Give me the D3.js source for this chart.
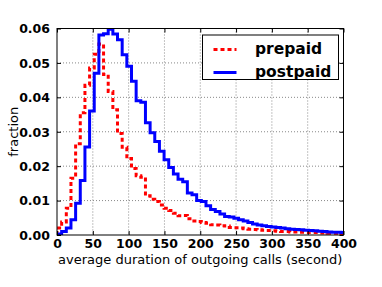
<!DOCTYPE html>
<html><head><meta charset="utf-8">
<script src="https://cdn.jsdelivr.net/npm/d3@7"></script>
<style>body{margin:0;background:#fff;}svg{display:block;font-family:"DejaVu Sans",sans-serif;}</style>
</head><body>
<svg id="c" width="382" height="287"></svg>
<script>
const binWidth = 6.5; // seconds per histogram bin, starting at 0
const seriesNames = ["prepaid", "postpaid"];
const prepaid = [0.002,0.0038,0.0078,0.0165,0.0265,0.0355,0.0435,0.0485,0.0525,0.0555,
 0.0466,0.0417,0.0364,0.0295,0.0255,0.0222,0.0193,0.0172,0.0168,0.0114,
 0.0104,0.0097,0.0087,0.0078,0.0071,0.0063,0.0056,0.0057,0.0047,0.0041,
 0.0039,0.0036,0.0034,0.003,0.0029,0.0027,0.0026,0.0022,0.0021,0.002,
 0.0018,0.0017,0.0016,0.0015,0.0014,0.0013,0.0012,0.0011,0.001,0.001,
 0.0009,0.0009,0.0008,0.0008,0.0007,0.0007,0.0006,0.0006,0.0005,0.0005,
 0.0005,0.0004];
const postpaid = [0.0003,0.001,0.002,0.0044,0.0092,0.0158,0.0256,0.036,0.047,0.0581,
 0.0585,0.0598,0.0584,0.0567,0.0524,0.049,0.0447,0.039,0.0386,0.0326,
 0.0297,0.0272,0.0243,0.0219,0.0196,0.0177,0.0162,0.0155,0.0122,0.0117,
 0.0100,0.0097,0.0085,0.0074,0.0068,0.0061,0.0054,0.0052,0.0049,0.0044,
 0.0041,0.0036,0.0032,0.0029,0.0027,0.0025,0.0023,0.0022,0.0020,0.0018,
 0.0017,0.0016,0.0015,0.0014,0.0013,0.0012,0.0011,0.0010,0.0009,0.0008,
 0.0008,0.0007];
const xTicks = [0,50,100,150,200,250,300,350,400];
const yTicks = [0,0.01,0.02,0.03,0.04,0.05,0.06];
const xLabel = "average duration of outgoing calls (second)";
const yLabel = "fraction";

const svg = d3.select("#c");
const L = 57, R = 343.5, T = 28.5, B = 235;
const x = d3.scaleLinear().domain([0,400]).range([L,R]);
const y = d3.scaleLinear().domain([0,0.06]).range([B,T]);

svg.append("defs").append("clipPath").attr("id","clip")
  .append("rect").attr("x",L).attr("y",T).attr("width",R-L).attr("height",B-T);

// grid
const g = svg.append("g");
g.selectAll(".gx").data(xTicks.slice(1,-1)).join("line")
  .attr("x1",d=>x(d)).attr("x2",d=>x(d)).attr("y1",T).attr("y2",B)
  .attr("stroke","#888").attr("stroke-width",1).attr("stroke-dasharray","1,2");
g.selectAll(".gy").data(yTicks.slice(1,-1)).join("line")
  .attr("y1",d=>y(d)).attr("y2",d=>y(d)).attr("x1",L).attr("x2",R)
  .attr("stroke","#888").attr("stroke-width",1).attr("stroke-dasharray","1,2");

function stepPoints(vals){
  const pts = [[0,0]];
  vals.forEach((v,i)=>{ pts.push([i*binWidth,v]); pts.push([(i+1)*binWidth,v]); });
  pts.push([vals.length*binWidth,0]);
  return pts;
}
const line = d3.line().x(d=>x(d[0])).y(d=>y(d[1]));
const plot = svg.append("g").attr("clip-path","url(#clip)");
plot.append("path").attr("d",line(stepPoints(prepaid))).attr("fill","none")
  .attr("stroke","#ff0000").attr("stroke-width",3).attr("stroke-dasharray","4,3");
plot.append("path").attr("d",line(stepPoints(postpaid))).attr("fill","none")
  .attr("stroke","#0000ff").attr("stroke-width",3).attr("stroke-linejoin","miter");

// frame
svg.append("rect").attr("x",L).attr("y",T).attr("width",R-L).attr("height",B-T)
  .attr("fill","none").attr("stroke","#000").attr("stroke-width",1);

// axes ticks (inward, all sides) via d3 axes
const axB = svg.append("g").attr("transform",`translate(0,${B})`)
  .call(d3.axisBottom(x).tickValues(xTicks).tickSizeInner(-4).tickSizeOuter(0).tickPadding(6).tickFormat(d3.format("d")));
const axL = svg.append("g").attr("transform",`translate(${L},0)`)
  .call(d3.axisLeft(y).tickValues(yTicks).tickSizeInner(-4).tickSizeOuter(0).tickPadding(7).tickFormat(d3.format(".2f")));
const axT = svg.append("g").attr("transform",`translate(0,${T})`)
  .call(d3.axisTop(x).tickValues(xTicks).tickSizeInner(-4).tickSizeOuter(0).tickFormat(""));
const axR = svg.append("g").attr("transform",`translate(${R},0)`)
  .call(d3.axisRight(y).tickValues(yTicks).tickSizeInner(-4).tickSizeOuter(0).tickFormat(""));
[axB,axL,axT,axR].forEach(a=>{ a.select(".domain").remove(); a.selectAll(".tick line").attr("stroke","#000"); });
[axB,axL].forEach(a=>a.selectAll("text").attr("font-family","DejaVu Sans").attr("font-weight","bold").attr("font-size",12.5).attr("fill","#000"));
axB.selectAll("text").attr("dy",null).attr("y",null).attr("dominant-baseline","auto").attr("transform",null)
  .each(function(){ d3.select(this).attr("y",13.3); });
axL.selectAll("text").attr("dy","0.35em");

// axis titles
svg.append("text").attr("x",(L+R)/2).attr("y",264).attr("text-anchor","middle")
  .attr("font-size",13).text(xLabel);
svg.append("text").attr("transform",`translate(13,${(T+B)/2}) rotate(-90)`)
  .attr("text-anchor","middle").attr("dominant-baseline","central").attr("font-size",13).text(yLabel);

// legend
const lg = svg.append("g");
lg.append("rect").attr("x",202.5).attr("y",35).attr("width",136).attr("height",44.5)
  .attr("fill","#fff").attr("stroke","#000").attr("stroke-width",1);
const items = [{name:seriesNames[0],color:"#ff0000",dash:"4,3",cy:49.5},{name:seriesNames[1],color:"#0000ff",dash:null,cy:72.5}];
items.forEach(it=>{
  lg.append("line").attr("x1",213.5).attr("x2",236.5).attr("y1",it.cy).attr("y2",it.cy)
    .attr("stroke",it.color).attr("stroke-width",3).attr("stroke-dasharray",it.dash);
  lg.append("text").attr("x",255).attr("y",it.cy).attr("dy","0.3em").attr("font-weight","bold")
    .attr("font-size",15.5).text(it.name);
});
</script>
</body></html>
